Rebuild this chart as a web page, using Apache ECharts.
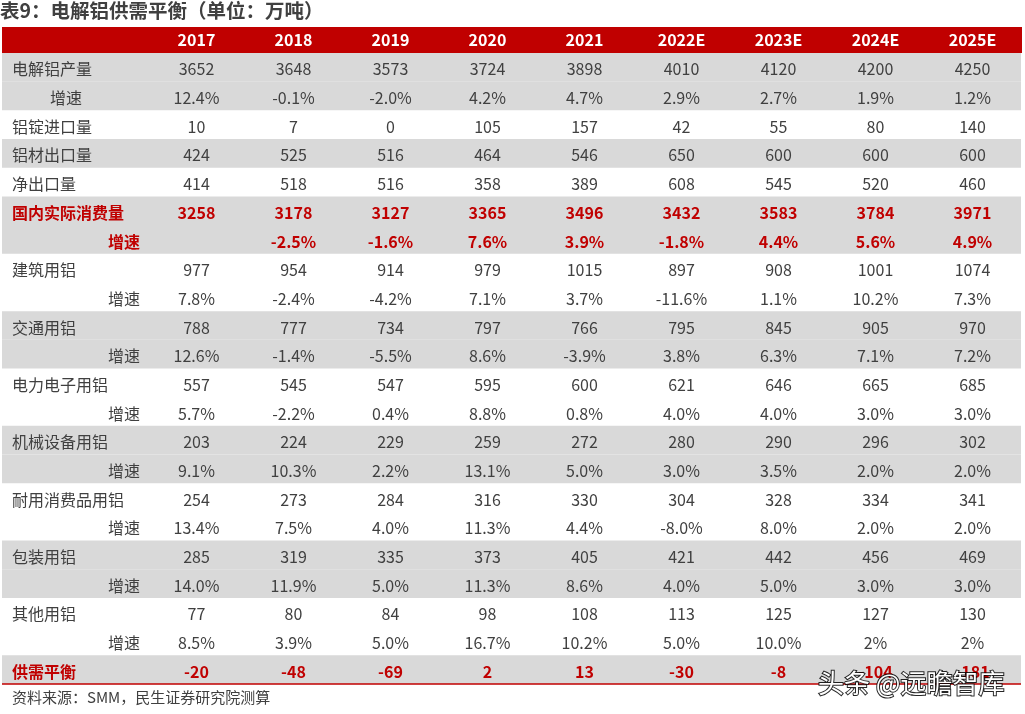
<!DOCTYPE html>
<html><head><meta charset="utf-8">
<script src="https://cdn.jsdelivr.net/npm/echarts@6/dist/echarts.min.js"></script>
<style>html,body{margin:0;padding:0;background:#fff}#c{width:1025px;height:714px}</style>
</head><body><div id="c"></div>
<script>
var years = ['2017','2018','2019','2020','2021','2022E','2023E','2024E','2025E'];
var rowLabels = ['电解铝产量','增速','铝锭进口量','铝材出口量','净出口量','国内实际消费量','增速','建筑用铝','增速','交通用铝','增速','电力电子用铝','增速','机械设备用铝','增速','耐用消费品用铝','增速','包装用铝','增速','其他用铝','增速','供需平衡'];
var production = [3652,3648,3573,3724,3898,4010,4120,4200,4250];
var productionGrowth = ['12.4%','-0.1%','-2.0%','4.2%','4.7%','2.9%','2.7%','1.9%','1.2%'];
var ingotImport = [10,7,0,105,157,42,55,80,140];
var productExport = [424,525,516,464,546,650,600,600,600];
var netExport = [414,518,516,358,389,608,545,520,460];
var consumption = [3258,3178,3127,3365,3496,3432,3583,3784,3971];
var consumptionGrowth = ['','-2.5%','-1.6%','7.6%','3.9%','-1.8%','4.4%','5.6%','4.9%'];
var construction = [977,954,914,979,1015,897,908,1001,1074];
var constructionGrowth = ['7.8%','-2.4%','-4.2%','7.1%','3.7%','-11.6%','1.1%','10.2%','7.3%'];
var transport = [788,777,734,797,766,795,845,905,970];
var transportGrowth = ['12.6%','-1.4%','-5.5%','8.6%','-3.9%','3.8%','6.3%','7.1%','7.2%'];
var power = [557,545,547,595,600,621,646,665,685];
var powerGrowth = ['5.7%','-2.2%','0.4%','8.8%','0.8%','4.0%','4.0%','3.0%','3.0%'];
var machinery = [203,224,229,259,272,280,290,296,302];
var machineryGrowth = ['9.1%','10.3%','2.2%','13.1%','5.0%','3.0%','3.5%','2.0%','2.0%'];
var durable = [254,273,284,316,330,304,328,334,341];
var durableGrowth = ['13.4%','7.5%','4.0%','11.3%','4.4%','-8.0%','8.0%','2.0%','2.0%'];
var packaging = [285,319,335,373,405,421,442,456,469];
var packagingGrowth = ['14.0%','11.9%','5.0%','11.3%','8.6%','4.0%','5.0%','3.0%','3.0%'];
var other = [77,80,84,98,108,113,125,127,130];
var otherGrowth = ['8.5%','3.9%','5.0%','16.7%','10.2%','5.0%','10.0%','2%','2%'];
var balance = [-20,-48,-69,2,13,-30,-8,-104,-181];

var rowValues = [production, productionGrowth, ingotImport, productExport, netExport, consumption, consumptionGrowth,
  construction, constructionGrowth, transport, transportGrowth, power, powerGrowth, machinery, machineryGrowth,
  durable, durableGrowth, packaging, packagingGrowth, other, otherGrowth, balance];
var redRows = {5:1, 6:1, 21:1};
var shadedRows = [0,1,3,5,6,9,10,13,14,17,18,21];

var RED = '#C00000', GRAY = '#D9D9D9', TXT = '#404040';
var FONT = '"Noto Sans CJK SC", "Noto Sans", sans-serif';

var cells = [];
rowValues.forEach(function (arr, r) {
  arr.forEach(function (v, c) { cells.push({ value: [c, r], text: String(v), red: !!redRows[r] }); });
});
var bgData = shadedRows.map(function (r) { return { value: [0, r] }; });

var chart = echarts.init(document.getElementById('c'));
chart.setOption({
  animation: false,
  backgroundColor: '#fff',
  grid: { left: 148, right: 4, top: 53, bottom: 30 },
  xAxis: {
    type: 'category', position: 'top', data: years,
    axisLine: { show: false }, axisTick: { show: false }, splitLine: { show: false },
    axisLabel: { color: '#fff', fontWeight: 'bold', fontSize: 16, fontFamily: FONT, margin: 13, verticalAlign: 'middle', interval: 0 }
  },
  yAxis: {
    type: 'category', inverse: true, data: rowLabels.map(function (_, i) { return 'r' + i; }),
    axisLine: { show: false }, axisTick: { show: false }, splitLine: { show: false },
    axisLabel: {
      interval: 0, align: 'left', margin: 136, fontSize: 16, fontFamily: FONT, color: TXT,
      formatter: function (v, i) {
        var t = rowLabels[i];
        if (i === 1) return '{a|' + t + '}';
        if (i === 6) return '{rb|' + t + '}';
        if (redRows[i]) return '{r|' + t + '}';
        if (t === '增速') return '{b|' + t + '}';
        return '{n|' + t + '}';
      },
      rich: {
        n: { padding: [4, 0, 0, 0], fontSize: 16, fontFamily: FONT, color: TXT },
        a: { padding: [4, 0, 0, 38], fontSize: 16, fontFamily: FONT, color: TXT },
        b: { padding: [4, 0, 0, 96], fontSize: 16, fontFamily: FONT, color: TXT },
        r: { padding: [4, 0, 0, 0], fontSize: 16, fontFamily: FONT, color: RED, fontWeight: 'bold' },
        rb: { padding: [4, 0, 0, 96], fontSize: 16, fontFamily: FONT, color: RED, fontWeight: 'bold' }
      }
    }
  },
  graphic: [
    { type: 'rect', left: 2, top: 27, shape: { width: 1020, height: 26 }, style: { fill: RED }, z: -1 },
    { type: 'text', left: 0, top: 1, style: { text: '表9：电解铝供需平衡（单位：万吨）', fill: TXT, font: 'bold 19.5px ' + FONT } },
    { type: 'text', left: 12, top: 690, style: { text: '资料来源：SMM，民生证券研究院测算', fill: TXT, font: '15px ' + FONT } },
    { type: 'text', left: 817, top: 669, z: 100, style: { text: '头条 @远瞻智库', fill: '#fff', stroke: 'rgba(0,0,0,0.85)', lineWidth: 2, font: '26px ' + FONT } }
  ],
  series: [
    {
      type: 'custom', z: 0, silent: true, data: bgData,
      renderItem: function (params, api) {
        var cs = params.coordSys;
        var p = api.coord([0, api.value(1)]);
        var h = api.size([0, 1])[1];
        var x0 = cs.x - 146, x1 = cs.x + cs.width;
        var children = [{ type: 'rect', shape: { x: x0, y: p[1] - h / 2, width: x1 - x0, height: h }, style: { fill: GRAY } }];
        if (api.value(1) === rowLabels.length - 1) {
          children.push({ type: 'line', shape: { x1: x0, y1: p[1] + h / 2, x2: x1, y2: p[1] + h / 2 }, style: { stroke: RED, lineWidth: 1.5 } });
        }
        return { type: 'group', children: children };
      }
    },
    {
      type: 'custom', z: 2, silent: true, data: cells,
      renderItem: function (params, api) {
        var c = cells[params.dataIndex];
        var p = api.coord([api.value(0), api.value(1)]);
        return { type: 'text', x: p[0], y: p[1] + 2, style: {
          text: c.text, align: 'center', verticalAlign: 'middle',
          fill: c.red ? RED : TXT, font: (c.red ? 'bold ' : '') + '16px ' + FONT } };
      }
    }
  ]
});
</script></body></html>
